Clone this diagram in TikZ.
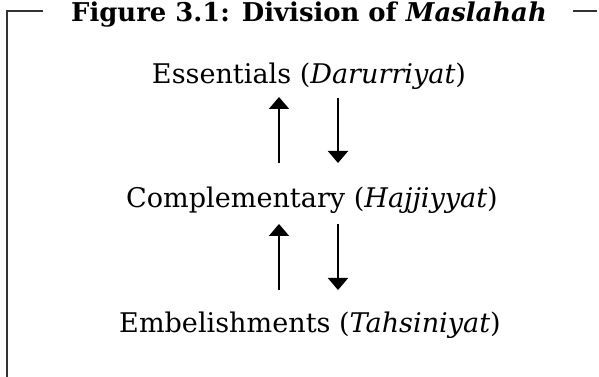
\documentclass[tikz,border=0pt]{standalone}
\usepackage{fontspec}
\setmainfont{DejaVu Serif}
\usetikzlibrary{arrows.meta}
\tikzset{
  lbl/.style={anchor=base, inner sep=0pt, font=\fontsize{20.3pt}{24pt}\selectfont},
  ttl/.style={anchor=base, inner sep=0pt, font=\fontsize{19.4pt}{23pt}\selectfont\bfseries},
  frame/.style={line width=0.9pt, draw=black!80},
  arr/.style={line width=1.5pt, -{Triangle[width=15pt,length=9pt]}}
}
\begin{document}
\begin{tikzpicture}[x=0.75pt,y=-0.75pt]
\useasboundingbox (0,0) rectangle (599,377);
\node[ttl] (title) at (309,22) {Figure 3.1: Division of \textit{Maslahah}};
\coordinate (tl) at (7,11);
\coordinate (tlr) at (43,11);
\coordinate (bl) at (7,377);
\coordinate (trl) at (573,11);
\coordinate (trr) at (597,11);
\draw[frame] (tlr) -- (tl) -- (bl);
\draw[frame] (trl) -- (trr);
\node[lbl] (ess) at (309,84) {Essentials (\textit{Darurriyat})};
\node[lbl] (comp) at (312,208) {Complementary (\textit{Hajjiyyat})};
\node[lbl] (emb) at (310,333) {Embelishments (\textit{Tahsiniyat})};
\coordinate (a1s) at (279,163); \coordinate (a1e) at (279,97);
\coordinate (b1s) at (338,98); \coordinate (b1e) at (338,163);
\coordinate (a2s) at (279,290); \coordinate (a2e) at (279,224);
\coordinate (b2s) at (338,224); \coordinate (b2e) at (338,290);
\draw[arr] (a1s) -- (a1e);
\draw[arr] (b1s) -- (b1e);
\draw[arr] (a2s) -- (a2e);
\draw[arr] (b2s) -- (b2e);
\end{tikzpicture}
\end{document}
